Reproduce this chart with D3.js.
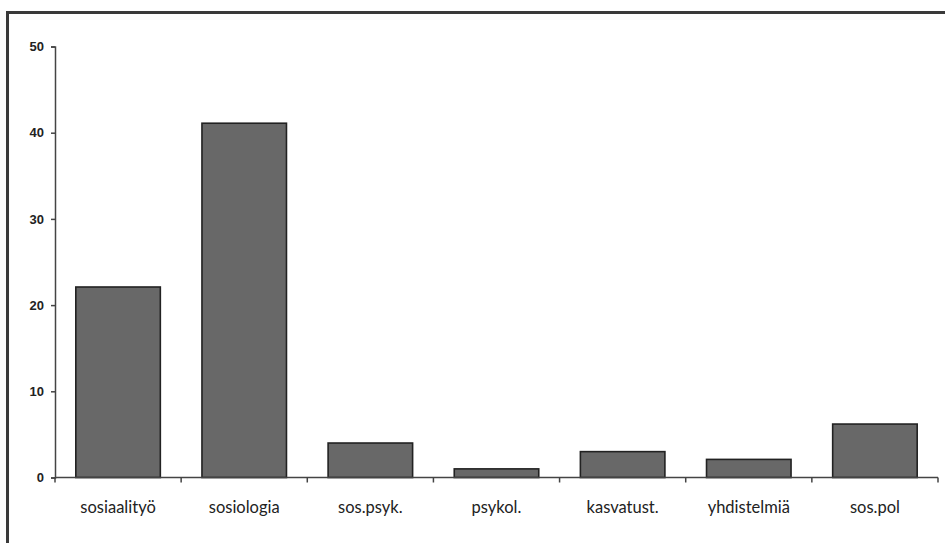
<!DOCTYPE html>
<html><head><meta charset="utf-8">
<script src="https://cdn.jsdelivr.net/npm/d3@7"></script>
<style>body{margin:0;background:#fff}svg{display:block}</style>
</head><body>
<svg id="c" width="945" height="543"></svg>
<script>
const categories = ["sosiaalityö","sosiologia","sos.psyk.","psykol.","kasvatust.","yhdistelmiä","sos.pol"];
const values = [22.1, 41.1, 4, 1, 3, 2.1, 6.2];
const yTicks = [0,10,20,30,40,50];

(function(){
const svg = d3.select("#c");
const mLeft = 55, mRight = 938, mTop = 46.5, mBottom = 477.5;

// frame (top and left edges)
svg.append("line").attr("x1",7).attr("x2",945).attr("y1",12.5).attr("y2",12.5).attr("stroke","#3a3a3a").attr("stroke-width",3);
svg.append("line").attr("x1",7.5).attr("x2",7.5).attr("y1",11).attr("y2",543).attr("stroke","#3a3a3a").attr("stroke-width",3);

const x = d3.scaleBand().domain(categories).range([mLeft,mRight]).paddingInner(0.33).paddingOuter(0.165);
const y = d3.scaleLinear().domain([0,50]).range([mBottom,mTop]);

// bars
svg.append("g").selectAll("rect").data(values).join("rect")
  .attr("x",(d,i)=>x(categories[i]))
  .attr("width",x.bandwidth())
  .attr("y",d=>y(d))
  .attr("height",d=>y(0)-y(d))
  .attr("fill","#686868").attr("stroke","#222").attr("stroke-width",1.6);

// y axis
const ya = svg.append("g").attr("transform",`translate(${mLeft},0)`)
  .call(d3.axisLeft(y).tickValues(yTicks).tickSize(4).tickPadding(7));
ya.select(".domain").attr("stroke","#444").attr("stroke-width",1.5);
ya.selectAll(".tick line").attr("stroke","#444").attr("stroke-width",1.5);
ya.selectAll("text").attr("font-family","Liberation Sans, Arial, sans-serif").attr("font-size",13).attr("font-weight","bold").attr("fill","#222");

// x axis
const step = x.step();
const start = x(categories[0]) - x.paddingOuter()*step;
const bounds = d3.range(categories.length+1).map(i => start + i*step);
const xa = svg.append("g").attr("transform",`translate(0,${mBottom})`);
xa.append("line").attr("x1",mLeft).attr("x2",mRight).attr("y1",0).attr("y2",0).attr("stroke","#444").attr("stroke-width",1.5);
xa.selectAll("line.t").data(bounds).join("line").attr("class","t")
  .attr("x1",d=>d).attr("x2",d=>d).attr("y1",0).attr("y2",5).attr("stroke","#444").attr("stroke-width",1.5);
xa.selectAll("text").data(categories).join("text")
  .attr("x",d=>x(d)+x.bandwidth()/2).attr("y",35)
  .attr("text-anchor","middle")
  .attr("font-family","Lato, Open Sans, sans-serif").attr("font-size",16.5).attr("fill","#222")
  .text(d=>d);
})();
</script>
</body></html>
